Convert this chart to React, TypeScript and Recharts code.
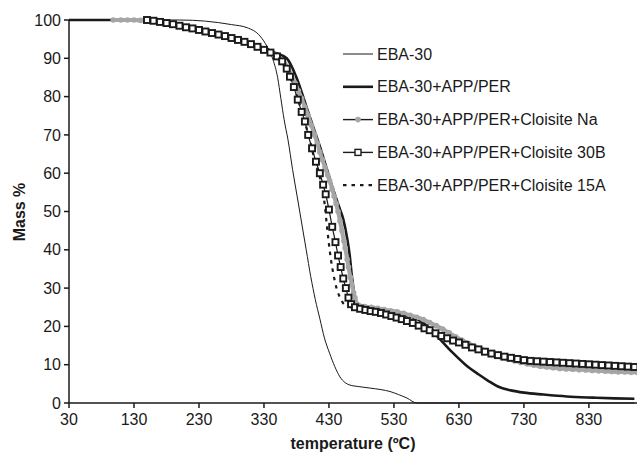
import { LineChart, Line, XAxis, YAxis } from 'recharts';

// series names, in the order Excel draws them
const names = [
  'EBA-30',
  'EBA-30+APP/PER',
  'EBA-30+APP/PER+Cloisite Na',
  'EBA-30+APP/PER+Cloisite 30B',
  'EBA-30+APP/PER+Cloisite 15A',
];

const xTicks = [30, 130, 230, 330, 430, 530, 630, 730, 830];
const yTicks = [0, 10, 20, 30, 40, 50, 60, 70, 80, 90, 100];

// temperature (ºC) / mass % pairs
const eba30T = [30, 200, 240, 280, 304, 324, 335, 344, 351, 356, 361, 367, 374, 381, 388, 395, 402, 409, 416, 423, 431, 439, 447, 455, 462, 475, 493, 510, 524, 537, 550, 565, 900];
const eba30M = [100, 100, 99.7, 98.8, 98, 95.8, 93, 89.6, 85, 79.5, 74, 68.7, 61, 54, 47, 40, 33, 27, 22, 17, 13, 9.5, 6.8, 5.3, 4.7, 4.3, 3.9, 3.5, 3, 2.2, 1.3, 0, 0];

const appT = [30, 130, 160, 200, 240, 280, 320, 345, 365, 380, 396, 408, 416, 426, 436, 445, 452, 458, 462, 465, 468, 471, 476, 490, 520, 550, 570, 585, 600, 620, 640, 660, 675, 690, 710, 730, 760, 796, 836, 870, 900];
const appM = [100, 100, 99.7, 98.8, 97.4, 95.6, 93.4, 91.6, 90, 85, 77, 71, 67, 61.5, 56, 51.5, 48, 43, 38.5, 33.5, 29.5, 26.5, 25, 24.6, 23.8, 22.8, 21.5, 19.5, 16.8, 13.2, 10, 7.5, 5.8, 4.3, 3.3, 2.7, 2.2, 1.7, 1.4, 1.2, 1.1];

const naT = [98, 110, 120, 130, 140, 150, 160, 170, 180, 190, 200, 210, 220, 230, 240, 250, 260, 270, 280, 290, 300, 310, 320, 330, 340, 348, 355, 362, 368, 373, 378, 383, 388, 393, 398, 403, 408, 412, 416, 420, 424, 428, 431, 435, 438, 441, 444, 447, 450, 453, 455, 458, 460, 463, 465, 468, 470, 475, 485, 495, 505, 515, 525, 535, 545, 555, 565, 575, 585, 595, 605, 615, 625, 635, 645, 655, 665, 675, 685, 695, 705, 715, 725, 735, 745, 755, 765, 775, 785, 795, 805, 815, 825, 835, 845, 855, 865, 875, 885, 895, 904];
const naM = [100, 100, 100, 100, 99.9, 99.8, 99.6, 99.4, 99.1, 98.8, 98.5, 98.1, 97.8, 97.4, 97, 96.6, 96.2, 95.8, 95.3, 94.8, 94.3, 93.7, 93.1, 92.4, 91.6, 90.8, 89.8, 88.5, 87, 85.3, 83.5, 81.5, 79.5, 77.3, 75, 72.5, 70, 67.8, 65.5, 63.5, 61.5, 59.5, 58, 55.8, 54, 52, 50, 47.5, 45, 42.3, 40.5, 37.5, 35.5, 32.8, 31, 28.8, 27.5, 25.6, 25.2, 25, 24.7, 24.4, 24.1, 23.8, 23.4, 22.9, 22.4, 21.8, 21, 20.2, 19.3, 18.3, 17.3, 16.4, 15.5, 14.7, 14, 13.2, 12.6, 12, 11.5, 11, 10.6, 10.2, 9.9, 9.6, 9.4, 9.2, 9, 8.9, 8.8, 8.7, 8.6, 8.5, 8.4, 8.3, 8.2, 8.1, 8.1, 8, 8];

const c30bT = [150, 160, 170, 180, 190, 200, 210, 220, 230, 240, 250, 260, 270, 280, 290, 300, 310, 320, 330, 340, 350, 358, 365, 370, 376, 382, 388, 393, 398, 404, 410, 416, 421, 425, 430, 435, 440, 444, 448, 452, 456, 460, 464, 470, 478, 486, 494, 502, 510, 518, 526, 534, 542, 550, 559, 568, 577, 585, 594, 603, 612, 621, 630, 640, 650, 660, 670, 680, 690, 700, 710, 720, 730, 740, 750, 760, 770, 780, 790, 800, 810, 820, 830, 840, 850, 860, 870, 880, 890, 900];
const c30bM = [100, 99.8, 99.5, 99.2, 98.9, 98.5, 98.1, 97.8, 97.4, 97, 96.6, 96.2, 95.8, 95.3, 94.8, 94.3, 93.7, 93, 92.2, 91.5, 90.5, 89.2, 87.3, 85.2, 82.5, 79.2, 76, 73.5, 70, 66.5, 63, 60, 57, 54.5, 50.5, 46, 42, 38.5, 35.5, 32.5, 30, 27.5, 25.8, 25, 24.6, 24.3, 24, 23.8, 23.5, 23.1, 22.7, 22.3, 21.9, 21.4, 20.9, 20.2, 19.5, 19, 18.2, 17.5, 16.9, 16.3, 15.8, 15.2, 14.5, 14, 13.4, 12.9, 12.5, 12.1, 11.8, 11.5, 11.2, 11, 10.9, 10.8, 10.7, 10.6, 10.5, 10.4, 10.3, 10.2, 10.1, 10, 9.9, 9.8, 9.7, 9.6, 9.5, 9.4];

const c15aT = [150, 200, 250, 300, 340, 360, 375, 390, 400, 408, 415, 420, 424, 427, 430, 433, 437, 442, 448, 455, 465, 480, 510, 540, 570, 600, 640, 680, 720, 760, 800, 850, 900];
const c15aM = [100, 98.5, 96.6, 94.3, 91.5, 88.5, 83, 75, 69, 63.5, 59.5, 56, 51, 46, 41.5, 37.5, 33.5, 29.8, 27.2, 25.5, 25, 24.4, 23.5, 22.3, 20.5, 18, 15.2, 13, 11.6, 10.8, 10.4, 9.9, 9.4];

const toRows = (t: number[], m: number[]) => t.map((x, i) => ({ t: x, m: m[i] }));

const font = '"Liberation Sans", Arial, sans-serif';
const ink = '#1a1a1a';

const SquareDot = (props: any) => {
  const { cx, cy, index } = props;
  if (cx == null || cy == null) return <g key={index} />;
  return <rect key={index} x={cx - 3} y={cy - 3} width={6} height={6} fill="#fff" stroke={ink} strokeWidth={1.9} />;
};

const GrayDot = (props: any) => {
  const { cx, cy, index } = props;
  if (cx == null || cy == null) return <g key={index} />;
  return <circle key={index} cx={cx} cy={cy} r={2.8} fill="#a6a6a6" stroke="none" />;
};

const YTitle = () => (
  <text x={25} y={212} transform="rotate(-90 25 212)" textAnchor="middle" fontFamily={font} fontWeight="bold" fontSize={16} fill={ink}>
    Mass %
  </text>
);

const XTitle = () => (
  <text x={353} y={449} textAnchor="middle" fontFamily={font} fontWeight="bold" fontSize={16} fill={ink}>
    temperature (ºC)
  </text>
);

function LegendBox() {
  const rowY = (i: number) => 14 + i * 32.8;
  return (
    <svg width={295} height={170} style={{ position: 'absolute', left: 340, top: 40 }}>
      {names.map((n, i) => {
        const y = rowY(i);
        return (
          <g key={n}>
            {i === 0 && <line x1={3} x2={33} y1={y} y2={y} stroke={ink} strokeWidth={1} />}
            {i === 1 && <line x1={3} x2={33} y1={y} y2={y} stroke={ink} strokeWidth={2.6} />}
            {i === 2 && (
              <>
                <line x1={3} x2={33} y1={y} y2={y} stroke={ink} strokeWidth={1.4} />
                <circle cx={18} cy={y} r={2.8} fill="#a6a6a6" />
              </>
            )}
            {i === 3 && (
              <>
                <line x1={3} x2={33} y1={y} y2={y} stroke={ink} strokeWidth={1.4} />
                <rect x={15} y={y - 3} width={6} height={6} fill="#fff" stroke={ink} strokeWidth={1.4} />
              </>
            )}
            {i === 4 && <line x1={3} x2={33} y1={y} y2={y} stroke={ink} strokeWidth={2.2} strokeDasharray="3.5 5" />}
            <text x={37} y={y} dominantBaseline="central" fontFamily={font} fontSize={16} fill={ink}>
              {n}
            </text>
          </g>
        );
      })}
    </svg>
  );
}

export default function App() {
  return (
    <div style={{ position: 'relative', width: 637, height: 461, background: '#fff' }}>
      <style>{'body{margin:0;background:#fff}'}</style>
      <LineChart width={637} height={461} margin={{ top: 20, right: 0, left: 0, bottom: 0 }}>
        <XAxis
          dataKey="t"
          type="number"
          domain={[30, 904]}
          ticks={xTicks}
          allowDataOverflow
          height={58}
          tickSize={5}
          tickMargin={6}
          stroke={ink}
          strokeWidth={1.5}
          tick={{ fontSize: 16, fill: ink, fontFamily: font }}
          label={<XTitle />}
        />
        <YAxis
          dataKey="m"
          type="number"
          domain={[0, 100]}
          ticks={yTicks}
          width={69}
          tickSize={5}
          tickMargin={3}
          stroke={ink}
          strokeWidth={1.5}
          tick={{ fontSize: 16, fill: ink, fontFamily: font }}
          label={<YTitle />}
        />
        <Line data={toRows(eba30T, eba30M)} dataKey="m" name={names[0]} type="monotone" stroke={ink} strokeWidth={1} dot={false} isAnimationActive={false} />
        <Line data={toRows(appT, appM)} dataKey="m" name={names[1]} type="monotone" stroke={ink} strokeWidth={2.6} dot={false} isAnimationActive={false} />
        <Line data={toRows(naT, naM)} dataKey="m" name={names[2]} type="monotone" stroke="#a6a6a6" strokeWidth={4} dot={<GrayDot />} isAnimationActive={false} />
        <Line data={toRows(c30bT, c30bM)} dataKey="m" name={names[3]} type="monotone" stroke={ink} strokeWidth={1.2} dot={<SquareDot />} isAnimationActive={false} />
        <Line data={toRows(c15aT, c15aM)} dataKey="m" name={names[4]} type="monotone" stroke={ink} strokeWidth={2.2} strokeDasharray="3.5 5" dot={false} isAnimationActive={false} />
      </LineChart>
      <LegendBox />
    </div>
  );
}
